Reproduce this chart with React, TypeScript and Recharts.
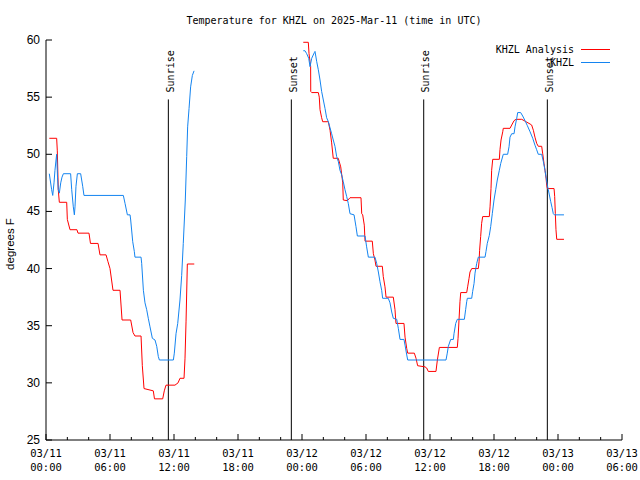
import {
  LineChart,
  Line,
  XAxis,
  YAxis,
  ReferenceLine,
  Legend,
} from 'recharts';

// hours since 03/11 00:00 UTC, temperature in F
const ANALYSIS_DAY1: [number, number][] = [
  [0.31, 51.4], [1.0, 51.4], [1.06, 50.3], [1.15, 46.9], [1.25, 45.8], [1.94, 45.8], [2.0, 44.3],
  [2.25, 43.4], [2.9, 43.4], [3.0, 43.1], [4.03, 43.1], [4.17, 42.2], [4.88, 42.2], [5.06, 41.2],
  [5.63, 41.2], [5.81, 40.6], [6.0, 40.0], [6.28, 38.1], [6.94, 38.1], [7.13, 35.5], [7.94, 35.5],
  [8.16, 34.4], [8.34, 34.1], [8.91, 34.1], [9.03, 31.5], [9.19, 29.5], [10.06, 29.3], [10.17, 28.6],
  [10.94, 28.6], [11.09, 29.3], [11.25, 29.8], [12.09, 29.8], [12.38, 30.0], [12.56, 30.4],
  [12.94, 30.4], [13.03, 32.1], [13.13, 35.4], [13.25, 40.4], [13.9, 40.4],
];

const ANALYSIS_DAY2: [number, number][] = [
  [24.12, 59.8], [24.59, 59.8], [24.66, 58.8], [24.75, 58.1], [24.81, 57.7], [24.82, 55.5], [24.91, 55.4],
  [25.53, 55.4], [25.62, 55.0], [25.69, 53.9], [25.84, 53.2], [25.94, 52.85], [26.47, 52.85], [26.63, 52.1],
  [26.78, 51.0], [26.93, 49.65], [27.4, 49.65], [27.63, 48.9], [27.82, 47.5], [27.87, 46.0], [28.25, 45.94],
  [28.5, 46.2], [29.53, 46.2], [29.6, 44.8], [29.69, 44.7], [29.84, 43.8], [29.91, 42.4], [30.59, 42.4],
  [30.69, 41.3], [30.84, 40.75], [30.94, 40.2], [31.53, 40.2], [31.62, 39.3], [31.78, 38.4], [31.88, 37.5],
  [32.56, 37.5], [32.72, 36.4], [32.81, 35.2], [33.56, 35.2], [33.66, 34.0], [33.82, 33.0], [33.91, 32.6],
  [34.53, 32.6], [34.69, 32.15], [34.84, 31.5], [35.53, 31.4], [35.69, 31.3], [35.84, 31.0], [36.56, 31.0],
  [36.69, 32.0], [36.88, 33.1], [38.56, 33.1], [38.63, 33.9], [38.72, 35.5], [38.81, 37.1], [38.88, 37.9],
  [39.44, 37.9], [39.53, 38.4], [39.66, 39.15], [39.75, 39.7], [39.91, 40.0], [40.53, 40.0], [40.6, 40.6],
  [40.65, 41.6], [40.75, 42.8], [40.84, 43.96], [40.94, 44.55], [41.56, 44.55], [41.63, 45.4], [41.72, 47.0],
  [41.78, 48.6], [41.88, 49.56], [42.5, 49.56], [42.56, 50.4], [42.66, 51.25], [42.82, 51.97], [42.87, 52.27],
  [43.5, 52.27], [43.66, 52.56], [43.88, 52.94], [44.06, 53.06], [44.6, 53.06], [45.0, 52.85], [45.38, 52.65],
  [45.53, 52.56], [45.69, 52.1], [45.84, 51.5], [46.0, 50.96], [46.15, 50.7], [46.47, 50.7], [46.56, 50.1],
  [46.69, 49.2], [46.78, 48.6], [46.88, 47.9], [46.94, 47.3], [47.0, 47.0], [47.63, 47.0], [47.69, 46.3],
  [47.75, 44.8], [47.81, 43.4], [47.88, 42.56], [48.56, 42.56],
];

const OBSERVED_DAY1: [number, number][] = [
  [0.31, 48.3], [0.53, 46.9], [0.63, 46.4], [0.75, 47.5], [0.84, 48.6], [0.94, 49.5], [1.0, 50.0],
  [1.08, 48.0], [1.15, 46.9], [1.25, 46.6], [1.38, 47.5], [1.5, 48.0], [1.63, 48.3], [2.31, 48.3],
  [2.41, 46.9], [2.56, 45.4], [2.66, 44.7], [2.72, 45.4], [2.81, 47.2], [2.94, 48.3], [3.25, 48.3],
  [3.44, 47.2], [3.56, 46.4], [7.25, 46.4], [7.41, 45.7], [7.63, 44.7], [7.88, 44.7], [7.94, 44.25],
  [8.13, 42.35], [8.28, 41.5], [8.34, 41.0], [8.91, 41.0], [8.97, 40.46], [9.13, 38.1], [9.28, 37.0],
  [9.44, 36.4], [9.59, 35.65], [9.75, 34.9], [9.97, 33.9], [10.22, 33.75], [10.38, 33.2], [10.53, 32.3],
  [10.63, 32.0], [11.94, 32.0], [12.03, 32.6], [12.19, 34.3], [12.35, 35.2], [12.56, 37.25], [12.72, 39.4],
  [12.87, 42.2], [13.06, 46.0], [13.19, 49.8], [13.28, 52.4], [13.41, 54.0], [13.56, 55.9], [13.72, 56.9],
  [13.88, 57.3],
];

const OBSERVED_DAY2: [number, number][] = [
  [24.12, 59.06], [24.28, 59.06], [24.44, 58.8], [24.63, 58.4], [24.75, 57.67], [24.91, 58.4], [25.16, 58.9],
  [25.22, 59.0], [25.38, 58.1], [25.53, 57.4], [25.69, 56.5], [25.84, 55.5], [26.0, 54.75], [26.16, 54.0],
  [26.31, 53.2], [26.47, 52.85], [26.63, 52.3], [26.78, 51.8], [26.93, 51.25], [27.09, 50.7], [27.25, 49.8],
  [27.41, 49.35], [27.56, 48.6], [27.72, 48.2], [27.87, 47.6], [28.03, 46.9], [28.19, 46.3], [28.34, 45.7],
  [28.5, 44.8], [28.88, 44.7], [29.06, 43.67], [29.19, 42.85], [29.91, 42.85], [30.06, 41.9], [30.22, 41.0],
  [30.84, 41.0], [31.0, 40.46], [31.16, 39.7], [31.31, 38.85], [31.47, 38.1], [31.56, 37.4], [32.09, 37.4],
  [32.25, 37.0], [32.41, 36.2], [32.56, 35.65], [32.88, 35.56], [33.03, 34.77], [33.19, 33.8], [33.56, 33.8],
  [33.66, 33.3], [33.82, 32.44], [33.91, 32.0], [37.5, 32.0], [37.62, 32.6], [37.72, 33.2], [37.94, 33.8],
  [38.19, 33.8], [38.25, 34.3], [38.41, 35.2], [38.56, 35.56], [39.22, 35.56], [39.34, 36.4], [39.44, 37.1],
  [39.5, 37.4], [39.91, 37.4], [40.0, 38.0], [40.13, 38.7], [40.22, 39.6], [40.38, 40.46], [40.53, 41.0],
  [41.16, 41.0], [41.25, 41.5], [41.37, 42.2], [41.56, 42.9], [41.69, 43.67], [41.84, 44.8], [42.0, 46.0],
  [42.16, 46.9], [42.31, 47.75], [42.5, 48.6], [42.63, 49.2], [42.87, 50.0], [43.28, 50.0], [43.41, 50.66],
  [43.5, 51.5], [43.66, 51.8], [43.88, 51.8], [43.97, 52.4], [44.13, 53.15], [44.22, 53.65], [44.5, 53.65],
  [44.69, 53.35], [44.91, 52.94], [45.13, 52.5], [45.38, 51.97], [45.63, 51.4], [45.84, 50.8], [46.0, 50.4],
  [46.15, 50.0], [46.47, 50.0], [46.63, 49.35], [46.78, 48.6], [46.88, 48.0], [47.0, 47.3], [47.09, 46.9],
  [47.19, 46.44], [47.32, 45.85], [47.44, 45.35], [47.56, 44.8], [47.66, 44.7], [48.56, 44.7],
];

const SUN_EVENTS = [
  { h: 11.47, label: 'Sunrise' },
  { h: 23.0, label: 'Sunset' },
  { h: 35.41, label: 'Sunrise' },
  { h: 47.0, label: 'Sunset' },
];

const SERIES_NAMES = ['KHZL Analysis', 'KHZL'];
const X_DATE_LABELS = ['03/11', '03/11', '03/11', '03/11', '03/12', '03/12', '03/12', '03/12', '03/13', '03/13'];
const X_TIME_LABELS = ['00:00', '06:00', '12:00', '18:00', '00:00', '06:00', '12:00', '18:00', '00:00', '06:00'];
const Y_TICKS = [25, 30, 35, 40, 45, 50, 55, 60];

const X_TICKS = Array.from({ length: 28 }, (_, i) => i * 2);
const MONO = '"DejaVu Sans Mono", monospace';
const SANS = '"Liberation Sans", Arial, sans-serif';

// one line per series, with a gap between the two days
const toSeries = (a: [number, number][], b: [number, number][]) => [
  ...a.map(([h, v]) => ({ h, v })),
  { h: 19, v: null },
  ...b.map(([h, v]) => ({ h, v })),
];

const analysisData = toSeries(ANALYSIS_DAY1, ANALYSIS_DAY2);
const observedData = toSeries(OBSERVED_DAY1, OBSERVED_DAY2);

function BottomTick(props: any) {
  const { x, y, payload } = props;
  const h = payload.value;
  const major = h % 6 === 0;
  const idx = h / 6;
  return (
    <g>
      <line x1={x} x2={x} y1={y} y2={y - (major ? 6 : 3)} stroke="#000" />
      {major && (
        <text x={x} y={y + 17} textAnchor="middle" fontFamily={MONO} fontSize={10.5} fill="#000">
          <tspan x={x}>{X_DATE_LABELS[idx]}</tspan>
          <tspan x={x} dy={14}>{X_TIME_LABELS[idx]}</tspan>
        </text>
      )}
    </g>
  );
}

function TopTick(props: any) {
  const { x, y, payload } = props;
  const major = payload.value % 6 === 0;
  return <line x1={x} x2={x} y1={y} y2={y + (major ? 6 : 3)} stroke="#000" />;
}

function LeftTick(props: any) {
  const { x, y, payload } = props;
  return (
    <g>
      <line x1={x} x2={x + 6} y1={y} y2={y} stroke="#000" />
      <text x={x - 6} y={y} textAnchor="end" dominantBaseline="central" fontFamily={SANS} fontSize={12} fill="#000">
        {payload.value}
      </text>
    </g>
  );
}

function RightTick(props: any) {
  const { x, y } = props;
  return <line x1={x} x2={x - 6} y1={y} y2={y} stroke="#000" />;
}

function YLabel(props: any) {
  const { viewBox } = props;
  const cx = viewBox.x + 10;
  const cy = viewBox.y + viewBox.height / 2 + 4;
  return (
    <text x={cx} y={cy} transform={`rotate(-90 ${cx} ${cy})`} textAnchor="middle" dominantBaseline="central" fontFamily={SANS} fontSize={11.5} fill="#000">
      degrees F
    </text>
  );
}

function SunLabel(props: any) {
  const { viewBox, text } = props;
  const cx = viewBox.x + 2;
  const cy = viewBox.y - 7;
  return (
    <text x={cx} y={cy} transform={`rotate(-90 ${cx} ${cy})`} textAnchor="start" dominantBaseline="central" fontFamily={MONO} fontSize={10} fill="#000">
      {text}
    </text>
  );
}

function LegendBox(props: any) {
  const items = [...(props.payload || [])].sort(
    (a: any, b: any) => SERIES_NAMES.indexOf(a.value) - SERIES_NAMES.indexOf(b.value)
  );
  return (
    <div style={{ width: 180, fontFamily: MONO, fontSize: 10, color: '#000' }}>
      {items.map((p: any) => (
        <div key={p.value} style={{ display: 'flex', alignItems: 'center', justifyContent: 'flex-end', height: 13 }}>
          <span>{p.value}</span>
          <span style={{ display: 'inline-block', width: 29, borderTop: `1px solid ${p.color}`, marginLeft: 7 }} />
        </div>
      ))}
    </div>
  );
}

export default function App() {
  return (
    <div style={{ position: 'absolute', left: 0, top: 0, width: 640, height: 480, background: '#fff' }}>
      <div
        style={{
          position: 'absolute',
          left: 46,
          width: 576,
          top: 15,
          textAlign: 'center',
          fontFamily: MONO,
          fontSize: 10,
          color: '#000',
        }}
      >
        Temperature for KHZL on 2025-Mar-11 (time in UTC)
      </div>
      <LineChart width={640} height={480} margin={{ top: 40, right: 18, bottom: 0, left: 0 }}>
        <XAxis
          xAxisId="bottom"
          dataKey="h"
          type="number"
          domain={[0, 54]}
          ticks={X_TICKS}
          interval={0}
          height={40}
          tickSize={0}
          tickMargin={0}
          tickLine={false}
          axisLine={{ stroke: '#000' }}
          tick={<BottomTick />}
          allowDataOverflow
        />
        <XAxis
          xAxisId="top"
          orientation="top"
          dataKey="h"
          type="number"
          domain={[0, 54]}
          ticks={X_TICKS}
          interval={0}
          height={0}
          tickSize={0}
          tickMargin={0}
          tickLine={false}
          axisLine={{ stroke: '#000' }}
          tick={<TopTick />}
        />
        <YAxis
          yAxisId="left"
          type="number"
          domain={[25, 60]}
          ticks={Y_TICKS}
          interval={0}
          width={46}
          tickSize={0}
          tickMargin={0}
          tickLine={false}
          axisLine={{ stroke: '#000' }}
          tick={<LeftTick />}
          label={<YLabel />}
        />
        <YAxis
          yAxisId="right"
          orientation="right"
          type="number"
          domain={[25, 60]}
          ticks={Y_TICKS}
          interval={0}
          width={0}
          tickSize={0}
          tickMargin={0}
          tickLine={false}
          axisLine={{ stroke: '#000' }}
          tick={<RightTick />}
        />
        {SUN_EVENTS.map((e, i) => (
          <ReferenceLine
            key={i}
            xAxisId="bottom"
            yAxisId="left"
            segment={[{ x: e.h, y: 54.8 }, { x: e.h, y: 25 }]}
            stroke="#000"
            strokeWidth={1}
            label={<SunLabel text={e.label} />}
            ifOverflow="visible"
          />
        ))}
        <Line
          xAxisId="bottom"
          yAxisId="left"
          data={analysisData}
          dataKey="v"
          name="KHZL Analysis"
          type="linear"
          stroke="#ff0000"
          strokeWidth={1}
          dot={false}
          isAnimationActive={false}
        />
        <Line
          xAxisId="bottom"
          yAxisId="left"
          data={observedData}
          dataKey="v"
          name="KHZL"
          type="linear"
          stroke="#1484f0"
          strokeWidth={1}
          dot={false}
          isAnimationActive={false}
        />
        <Legend
          layout="vertical"
          align="center"
          verticalAlign="middle"
          content={<LegendBox />}
          wrapperStyle={{ left: 430, top: 43, width: 180 }}
        />
      </LineChart>
    </div>
  );
}
